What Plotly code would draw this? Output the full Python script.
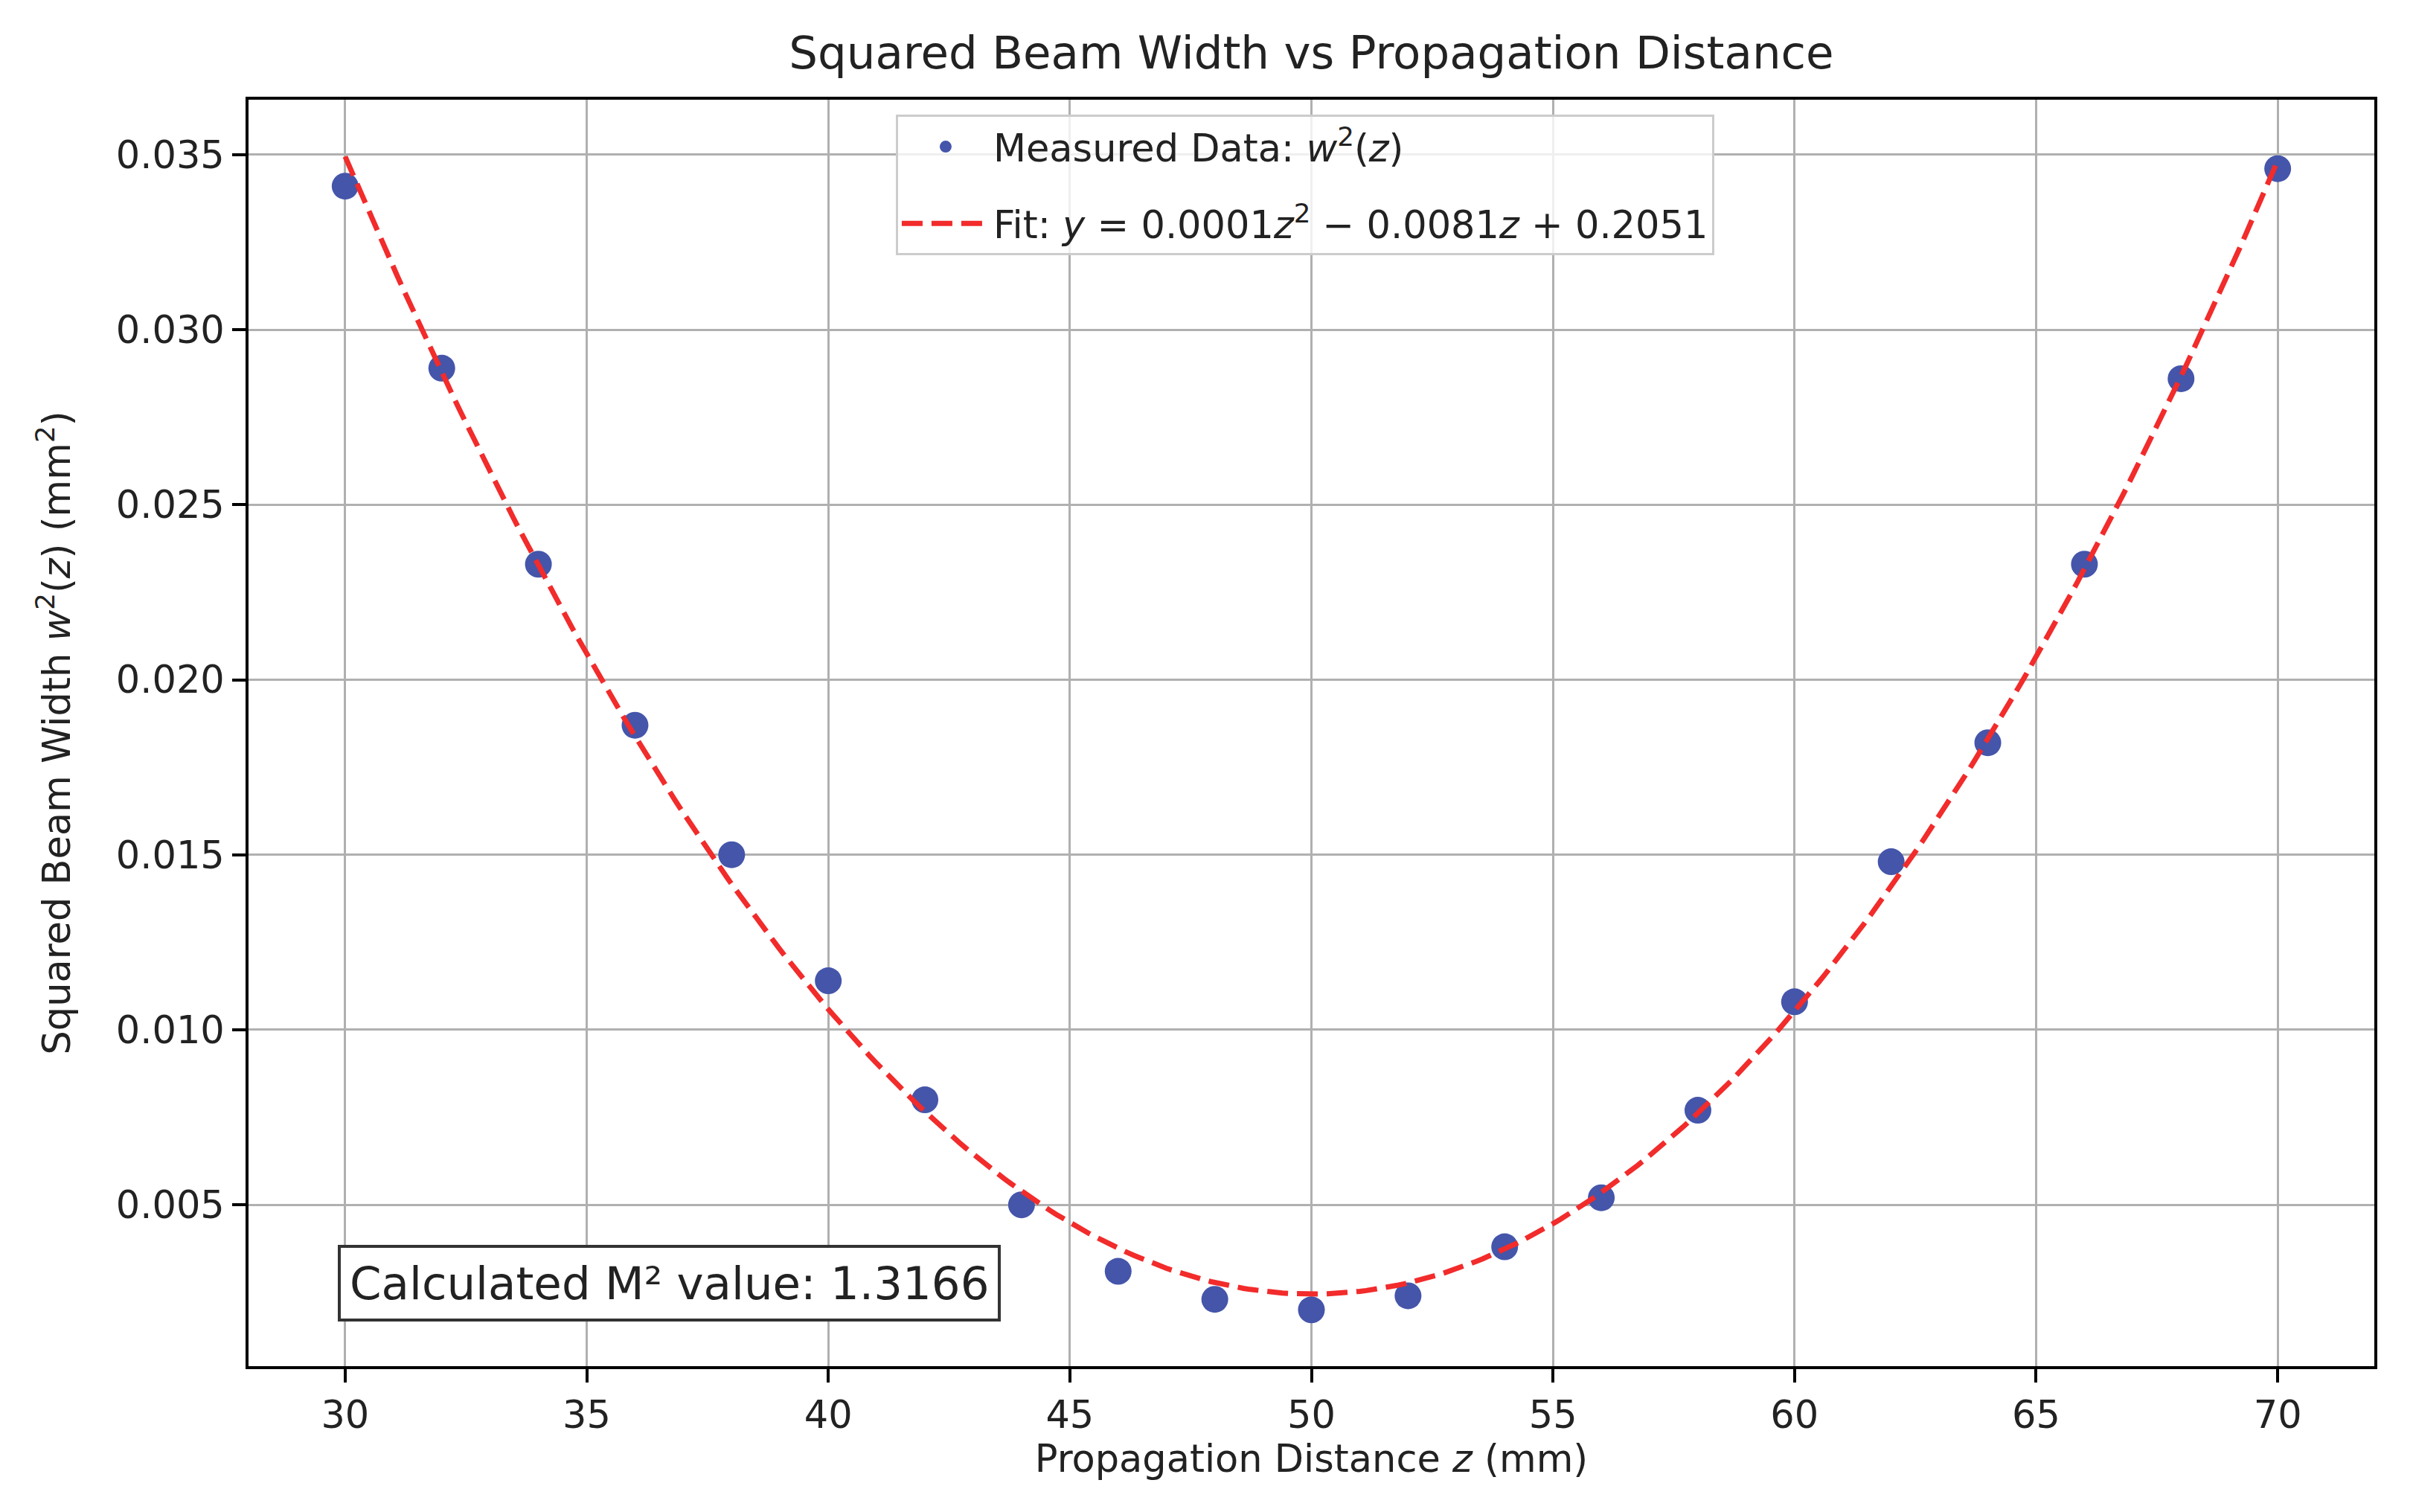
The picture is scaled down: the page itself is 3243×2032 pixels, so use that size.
import numpy as np
import plotly.graph_objects as go

# measured squared beam width vs propagation distance
z_mm = [30, 32, 34, 36, 38, 40, 42, 44, 46, 48, 50,
        52, 54, 56, 58, 60, 62, 64, 66, 68, 70]
w2_mm2 = [0.0341, 0.0289, 0.0233, 0.0187, 0.0150, 0.0114, 0.0080, 0.0050, 0.0031, 0.0023, 0.0020,
          0.0024, 0.0038, 0.0052, 0.0077, 0.0108, 0.0148, 0.0182, 0.0233, 0.0286, 0.0346]

m2_value = 1.3166
fit_label = "Fit: <i>y</i> = 0.0001<i>z</i><sup>2</sup> \u2212 0.0081<i>z</i> + 0.2051"
data_label = "Measured Data: <i>w</i><sup>2</sup>(<i>z</i>)"

# quadratic fit through the measured points
coeffs = np.polyfit(z_mm, w2_mm2, 2)
z_fit = np.linspace(min(z_mm), max(z_mm), 300)
w2_fit = np.polyval(coeffs, z_fit)

FONT = "DejaVu Sans"

fig = go.Figure()
fig.add_trace(go.Scatter(
    x=z_mm, y=w2_mm2,
    mode="markers",
    name=data_label,
    marker=dict(size=36, color="#4455aa"),
    legendgroup="a",
))
fig.add_trace(go.Scatter(
    x=z_fit, y=w2_fit,
    mode="lines",
    name=fit_label,
    line=dict(color="#f22b2b", width=7, dash="28px,12px"),
    legendgroup="b",
))

axis_common = dict(
    showline=True, linecolor="black", linewidth=4, mirror=True,
    ticks="outside", ticklen=18, tickwidth=4, tickcolor="black",
    showgrid=True, gridcolor="#b0b0b0", gridwidth=3,
    zeroline=False,
    tickfont=dict(family=FONT, size=51, color="#222222"),
)

fig.update_xaxes(
    range=[28, 72], dtick=5, tick0=0,
    title=dict(text="Propagation Distance <i>z</i> (mm)",
               font=dict(family=FONT, size=51, color="#222222"), standoff=12),
    **axis_common,
)
fig.update_yaxes(
    range=[0.00039, 0.03657], dtick=0.005, tick0=0, tickformat=".3f",
    title=dict(text="Squared Beam Width <i>w</i><sup>2</sup>(<i>z</i>) (mm<sup>2</sup>)",
               font=dict(family=FONT, size=51, color="#222222"), standoff=46),
    **axis_common,
)

fig.add_annotation(
    text=f"Calculated M\u00b2 value: {m2_value}",
    xref="paper", yref="paper", x=0.042, y=0.035,
    xanchor="left", yanchor="bottom", showarrow=False,
    font=dict(family=FONT, size=61, color="#222222"),
    bgcolor="white", bordercolor="#333333", borderwidth=4, borderpad=12,
)

fig.update_layout(
    width=3243, height=2032,
    margin=dict(l=326, r=60, t=126, b=204),
    paper_bgcolor="white", plot_bgcolor="white",
    font=dict(family=FONT, color="#222222"),
    title=dict(text="Squared Beam Width vs Propagation Distance",
               x=0.5, xref="paper", xanchor="center",
               y=0.969, yanchor="middle",
               font=dict(family=FONT, size=61, color="#222222")),
    legend=dict(
        x=0.497, xanchor="center", y=0.988, yanchor="top",
        bgcolor="rgba(255,255,255,0.8)", bordercolor="#cccccc", borderwidth=3,
        font=dict(family=FONT, size=51, color="#222222"),
        traceorder="grouped", tracegroupgap=34, itemwidth=118,
    ),
    showlegend=True,
)

fig.write_html("out.html")
